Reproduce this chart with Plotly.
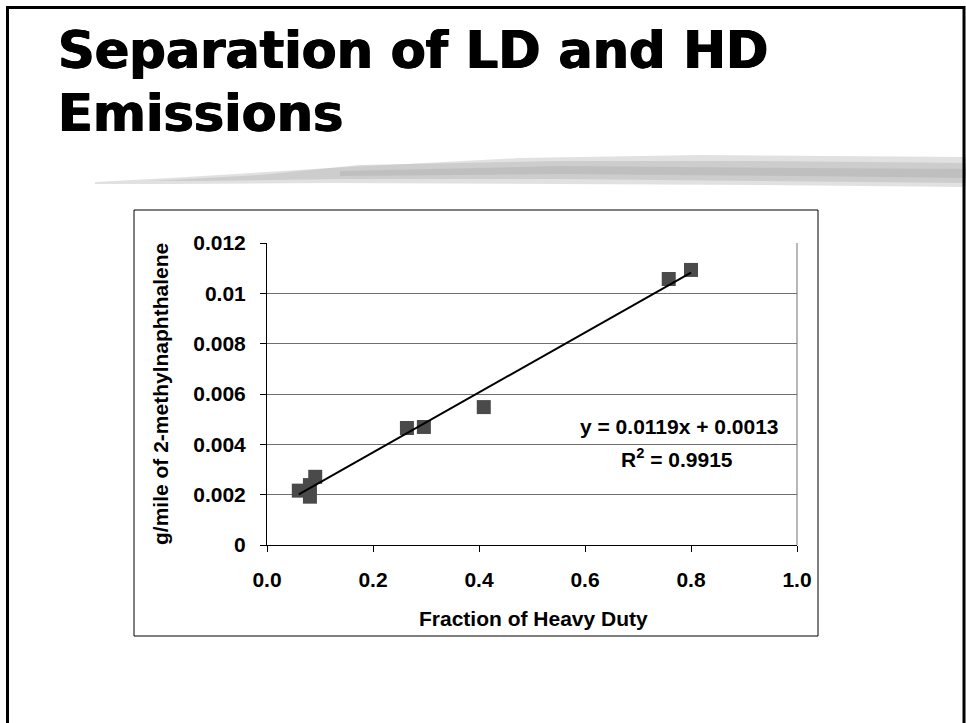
import plotly.graph_objects as go

# ---- data ----
frac_hd = [0.060, 0.081, 0.081, 0.091, 0.264, 0.296, 0.409, 0.758, 0.800]
gpm_2mn = [0.00216, 0.00192, 0.00238, 0.00271, 0.00465, 0.00469, 0.00548, 0.01057, 0.01093]
slope = 0.0119
intercept = 0.0013
r2 = 0.9915
y_tickvals = [0, 0.002, 0.004, 0.006, 0.008, 0.01, 0.012]
y_ticktext = ["0", "0.002", "0.004", "0.006", "0.008", "0.01", "0.012"]
x_tickvals = [0.0, 0.2, 0.4, 0.6, 0.8, 1.0]

W, H = 966, 723
L, R, T, B = 267, 797, 243, 545


def px(x):
    return (x - L) / (R - L)


def py(y):
    return (B - y) / (B - T)


fit_x = [min(frac_hd), max(frac_hd)]
fit_y = [slope * v + intercept for v in fit_x]

fig = go.Figure()
fig.add_trace(go.Scatter(x=frac_hd, y=gpm_2mn, mode="markers",
                         marker=dict(symbol="square", size=14, color="#4a4a4a",
                                     line=dict(width=0)),
                         showlegend=False, hoverinfo="x+y"))
fig.add_trace(go.Scatter(x=fit_x, y=fit_y, mode="lines",
                         line=dict(color="black", width=2), showlegend=False))

font_chart = dict(family="Liberation Sans, Arial, sans-serif", size=21, color="black", weight="bold")

shapes = []
# slide border
shapes.append(dict(type="rect", xref="paper", yref="paper",
                   x0=px(7.5), x1=px(964), y0=py(7.5), y1=py(760),
                   line=dict(color="black", width=3), fillcolor="rgba(0,0,0,0)", layer="above"))


def poly(pts):
    return "M " + " L ".join(f"{px(a):.5f},{py(b):.5f}" for a, b in pts) + " Z"


# decorative brush stroke under the title
stroke_layers = [
    ([(95, 182), (170, 178), (330, 168), (520, 158), (700, 155), (966, 157),
      (966, 187), (760, 185), (560, 184), (330, 183), (170, 184), (95, 184)], "rgba(205,205,205,0.6)"),
    ([(150, 181), (260, 175), (360, 165), (560, 161), (760, 161), (966, 163),
      (966, 183), (760, 181), (560, 179), (340, 179), (200, 181)], "rgba(190,190,190,0.55)"),
    ([(340, 171), (560, 166), (800, 168), (966, 169), (966, 178), (800, 176), (560, 174), (340, 176)],
     "rgba(175,175,175,0.45)"),
]
for pts, col in stroke_layers:
    shapes.append(dict(type="path", xref="paper", yref="paper", path=poly(pts),
                       fillcolor=col, line=dict(width=0), layer="below"))
# chart box
shapes.append(dict(type="rect", xref="paper", yref="paper",
                   x0=px(134), x1=px(818), y0=py(210), y1=py(636),
                   line=dict(color="black", width=1), fillcolor="rgba(0,0,0,0)"))
# plot area right border
shapes.append(dict(type="line", xref="paper", yref="paper", x0=1, x1=1, y0=0, y1=1,
                   line=dict(color="#707070", width=1)))

ann = []
title_font = dict(family="DejaVu Sans, sans-serif", size=51, color="black", weight="bold",
                  shadow="0.7px 0px 0px black, -0.7px 0px 0px black")
ann.append(dict(text="Separation of LD and HD", x=px(56), y=py(50), xref="paper", yref="paper",
                xanchor="left", yanchor="middle", showarrow=False, font=title_font))
ann.append(dict(text="Emissions", x=px(56), y=py(114), xref="paper", yref="paper",
                xanchor="left", yanchor="middle", showarrow=False, font=title_font))
ann.append(dict(text=f"y = {slope}x + {intercept}", x=px(679), y=py(426), xref="paper", yref="paper",
                xanchor="center", yanchor="middle", showarrow=False, font=font_chart))
ann.append(dict(text=f"R<sup>2</sup> = {r2}", x=px(677), y=py(458), xref="paper", yref="paper",
                xanchor="center", yanchor="middle", showarrow=False, font=font_chart))
ann.append(dict(text="Fraction of Heavy Duty", x=px(533), y=py(618), xref="paper", yref="paper",
                xanchor="center", yanchor="middle", showarrow=False, font=font_chart))
ann.append(dict(text="g/mile of 2-methylnaphthalene", x=px(160), y=py(394), xref="paper", yref="paper",
                xanchor="center", yanchor="middle", textangle=-90, showarrow=False, font=font_chart))

fig.update_layout(
    width=W, height=H,
    margin=dict(l=L, r=W - R, t=T, b=H - B, pad=0),
    paper_bgcolor="white", plot_bgcolor="white",
    shapes=shapes, annotations=ann,
    xaxis=dict(range=[0, 1], tickvals=x_tickvals, tickformat=".1f", showgrid=False,
               zeroline=False, showline=True, linecolor="black", linewidth=1,
               ticks="outside", ticklen=6, tickcolor="black", tickfont=font_chart,
               ticklabelstandoff=10),
    yaxis=dict(range=[0, 0.012], tickvals=y_tickvals, ticktext=y_ticktext,
               showgrid=True, gridcolor="#707070", gridwidth=1,
               zeroline=False, showline=True, linecolor="black", linewidth=1,
               ticks="outside", ticklen=6, tickcolor="black", tickfont=font_chart,
               ticklabelstandoff=10),
)

fig.write_html("out.html")
